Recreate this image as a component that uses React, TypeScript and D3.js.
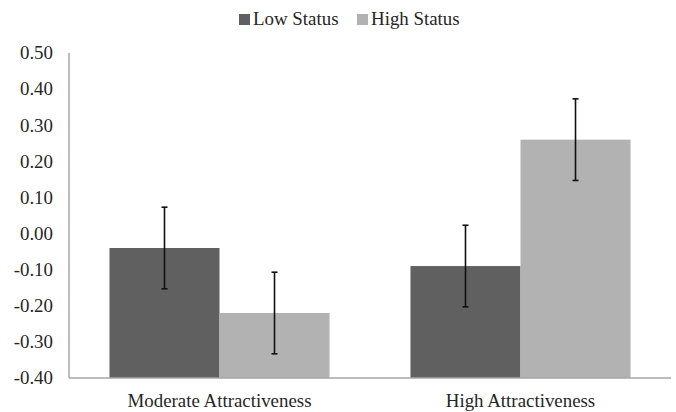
import React from "react";
import * as d3 from "d3";

const categories = ["Moderate Attractiveness", "High Attractiveness"];
const seriesNames = ["Low Status", "High Status"];
const lowStatus = [-0.04, -0.09];
const highStatus = [-0.22, 0.26];
const lowStatusErr = [0.113, 0.113];
const highStatusErr = [0.113, 0.113];
const yTicks = [0.5, 0.4, 0.3, 0.2, 0.1, 0.0, -0.1, -0.2, -0.3, -0.4];
const colors = ["#606060", "#b2b2b2"];

const W = 676;
const H = 412;
const FONT = "Liberation Serif, Times New Roman, DejaVu Serif, serif";
const SX = 1.05;

export default function App() {
  const y = d3.scaleLinear().domain([-0.4, 0.5]).range([378, 53]);
  const x = d3.scaleBand<string>().domain(categories).range([69, 671]).paddingInner(0).paddingOuter(0);
  const xs = d3.scaleBand<string>().domain(seriesNames).range([0, x.bandwidth()]).paddingInner(0).paddingOuter(0.368);
  const series = [
    { name: seriesNames[0], values: lowStatus, errs: lowStatusErr, color: colors[0] },
    { name: seriesNames[1], values: highStatus, errs: highStatusErr, color: colors[1] },
  ];
  const base = y(-0.4);
  const capW = 6;
  const txt = { fontFamily: FONT, fontSize: "18px" } as React.CSSProperties;
  const tr = (tx: number, ty: number) => `translate(${tx},${ty}) scale(${SX},1)`;

  return (
    <svg
      width={W}
      height={H}
      style={{ position: "fixed", left: 0, top: 0, background: "#fff" }}
    >
      <rect x={0} y={0} width={W} height={H} fill="#fff" />
      {series.map((s, i) => {
        const lx = i === 0 ? 239 : 357;
        return (
          <g key={s.name}>
            <rect x={lx} y={14} width={11} height={11} fill={s.color} />
            <text transform={tr(lx + 14, 25)} style={txt} fill="#262626">
              {s.name}
            </text>
          </g>
        );
      })}
      {yTicks.map((t) => (
        <text
          key={t}
          transform={tr(53, y(t))}
          dy="0.35em"
          textAnchor="end"
          style={txt}
          fill="#262626"
        >
          {t.toFixed(2)}
        </text>
      ))}
      {series.map((s) =>
        categories.map((c, ci) => {
          const bx = (x(c) ?? 0) + (xs(s.name) ?? 0);
          const top = y(s.values[ci]);
          return (
            <rect
              key={s.name + c}
              x={bx}
              y={top}
              width={xs.bandwidth()}
              height={base - top}
              fill={s.color}
            />
          );
        })
      )}
      <line x1={69} x2={69} y1={y(0.5)} y2={base} stroke="#a6a6a6" strokeWidth={1.5} />
      <line x1={69} x2={671} y1={base} y2={base} stroke="#a6a6a6" strokeWidth={1.5} />
      {series.map((s) =>
        categories.map((c, ci) => {
          const cx = (x(c) ?? 0) + (xs(s.name) ?? 0) + xs.bandwidth() / 2;
          const hi = y(s.values[ci] + s.errs[ci]);
          const lo = y(s.values[ci] - s.errs[ci]);
          return (
            <g key={"e" + s.name + c} stroke="#111" strokeWidth={1.6}>
              <line x1={cx} x2={cx} y1={hi} y2={lo} />
              <line x1={cx - capW / 2} x2={cx + capW / 2} y1={hi} y2={hi} />
              <line x1={cx - capW / 2} x2={cx + capW / 2} y1={lo} y2={lo} />
            </g>
          );
        })
      )}
      {categories.map((c) => (
        <text
          key={c}
          transform={tr((x(c) ?? 0) + x.bandwidth() / 2, 407)}
          textAnchor="middle"
          style={txt}
          fill="#262626"
        >
          {c}
        </text>
      ))}
    </svg>
  );
}
